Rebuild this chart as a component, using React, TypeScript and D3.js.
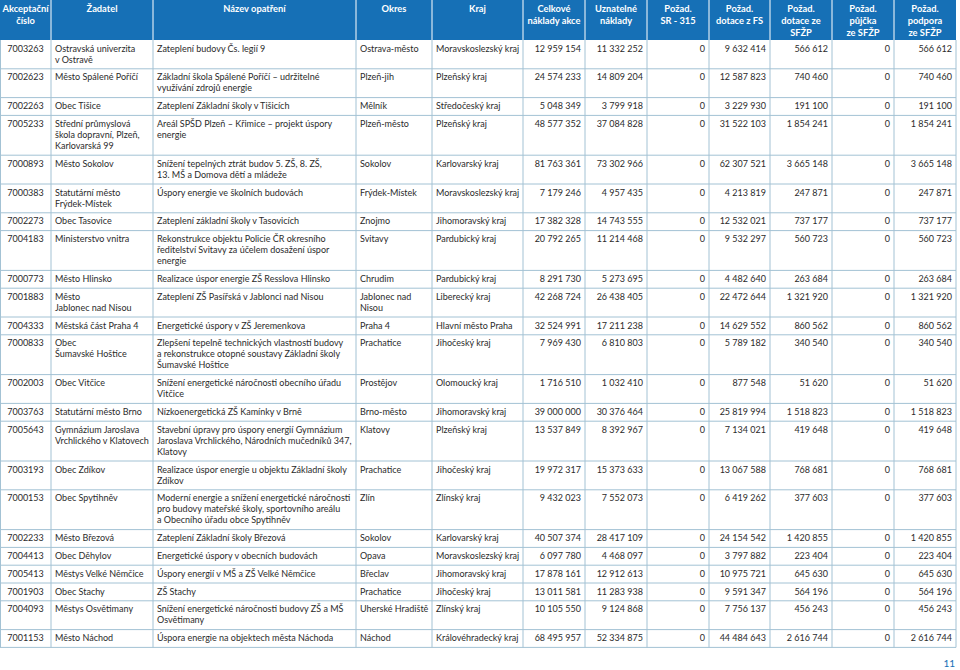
import { useEffect, useRef } from "react";
import * as d3 from "d3";

// table content
const headers = [
  "Akceptační\nčíslo", "Žadatel", "Název opatření", "Okres", "Kraj",
  "Celkové\nnáklady akce", "Uznatelné\nnáklady", "Požad.\nSR - 315", "Požad.\ndotace z FS",
  "Požad.\ndotace ze\nSFŽP", "Požad.\npůjčka\nze SFŽP", "Požad.\npodpora\nze SFŽP",
];

const acceptNumbers = [
  "7003263", "7002623", "7002263", "7005233", "7000893", "7000383", "7002273", "7004183",
  "7000773", "7001883", "7004333", "7000833", "7002003", "7003763", "7005643", "7003193",
  "7000153", "7002233", "7004413", "7005413", "7001903", "7004093", "7001153",
];

const applicants = [
  "Ostravská univerzita\nv Ostravě", "Město Spálené Poříčí", "Obec Tišice",
  "Střední průmyslová\nškola dopravní, Plzeň,\nKarlovarská 99", "Město Sokolov",
  "Statutární město\nFrýdek-Místek", "Obec Tasovice", "Ministerstvo vnitra", "Město Hlinsko",
  "Město\nJablonec nad Nisou", "Městská část Praha 4", "Obec\nŠumavské Hoštice", "Obec Vitčice",
  "Statutární město Brno", "Gymnázium Jaroslava\nVrchlického v Klatovech", "Obec Zdíkov",
  "Obec Spytihněv", "Město Březová", "Obec Děhylov", "Městys Velké Němčice", "Obec Stachy",
  "Městys Osvětimany", "Město Náchod",
];

const measures = [
  "Zateplení budovy Čs. legií 9",
  "Základní škola Spálené Poříčí – udržitelné\nvyužívání zdrojů energie",
  "Zateplení Základní školy v Tišicích",
  "Areál SPŠD Plzeň – Křimice – projekt úspory\nenergie",
  "Snížení tepelných ztrát budov 5. ZŠ, 8. ZŠ,\n13. MŠ a Domova dětí a mládeže",
  "Úspory energie ve školních budovách",
  "Zateplení základní školy v Tasovicích",
  "Rekonstrukce objektu Policie ČR okresního\nředitelství Svitavy za účelem dosažení úspor\nenergie",
  "Realizace úspor energie ZŠ Resslova Hlinsko",
  "Zateplení ZŠ Pasířská v Jablonci nad Nisou",
  "Energetické úspory v ZŠ Jeremenkova",
  "Zlepšení tepelně technických vlastností budovy\na rekonstrukce otopné soustavy Základní školy\nŠumavské Hoštice",
  "Snížení energetické náročnosti obecního úřadu\nVitčice",
  "Nízkoenergetická ZŠ Kamínky v Brně",
  "Stavební úpravy pro úspory energií Gymnázium\nJaroslava Vrchlického, Národních mučedníků 347,\nKlatovy",
  "Realizace úspor energie u objektu Základní školy\nZdíkov",
  "Moderní energie a snížení energetické náročnosti\npro budovy mateřské školy, sportovního areálu\na Obecního úřadu obce Spytihněv",
  "Zateplení Základní školy Březová",
  "Energetické úspory v obecních budovách",
  "Úspory energií v MŠ a ZŠ Velké Němčice",
  "ZŠ Stachy",
  "Snížení energetické náročnosti budovy ZŠ a MŠ\nOsvětimany",
  "Úspora energie na objektech města Náchoda",
];

const districts = [
  "Ostrava-město", "Plzeň-jih", "Mělník", "Plzeň-město", "Sokolov", "Frýdek-Místek", "Znojmo",
  "Svitavy", "Chrudim", "Jablonec nad\nNisou", "Praha 4", "Prachatice", "Prostějov", "Brno-město",
  "Klatovy", "Prachatice", "Zlín", "Sokolov", "Opava", "Břeclav", "Prachatice", "Uherské Hradiště",
  "Náchod",
];

const regions = [
  "Moravskoslezský kraj", "Plzeňský kraj", "Středočeský kraj", "Plzeňský kraj", "Karlovarský kraj",
  "Moravskoslezský kraj", "Jihomoravský kraj", "Pardubický kraj", "Pardubický kraj", "Liberecký kraj",
  "Hlavní město Praha", "Jihočeský kraj", "Olomoucký kraj", "Jihomoravský kraj", "Plzeňský kraj",
  "Jihočeský kraj", "Zlínský kraj", "Karlovarský kraj", "Moravskoslezský kraj", "Jihomoravský kraj",
  "Jihočeský kraj", "Zlínský kraj", "Královéhradecký kraj",
];

const totalCosts = [
  12959154, 24574233, 5048349, 48577352, 81763361, 7179246, 17382328, 20792265, 8291730,
  42268724, 32524991, 7969430, 1716510, 39000000, 13537849, 19972317, 9432023, 40507374,
  6097780, 17878161, 13011581, 10105550, 68495957,
];
const eligibleCosts = [
  11332252, 14809204, 3799918, 37084828, 73302966, 4957435, 14743555, 11214468, 5273695,
  26438405, 17211238, 6810803, 1032410, 30376464, 8392967, 15373633, 7552073, 28417109,
  4468097, 12912613, 11283938, 9124868, 52334875,
];
const srRequest = [0, 0, 0, 0, 0, 0, 0, 0, 0, 0, 0, 0, 0, 0, 0, 0, 0, 0, 0, 0, 0, 0, 0];
const fsGrant = [
  9632414, 12587823, 3229930, 31522103, 62307521, 4213819, 12532021, 9532297, 4482640,
  22472644, 14629552, 5789182, 877548, 25819994, 7134021, 13067588, 6419262, 24154542,
  3797882, 10975721, 9591347, 7756137, 44484643,
];
const sfzpGrant = [
  566612, 740460, 191100, 1854241, 3665148, 247871, 737177, 560723, 263684, 1321920, 860562,
  340540, 51620, 1518823, 419648, 768681, 377603, 1420855, 223404, 645630, 564196, 456243,
  2616744,
];
const sfzpLoan = [0, 0, 0, 0, 0, 0, 0, 0, 0, 0, 0, 0, 0, 0, 0, 0, 0, 0, 0, 0, 0, 0, 0];
const sfzpSupport = [
  566612, 740460, 191100, 1854241, 3665148, 247871, 737177, 560723, 263684, 1321920, 860562,
  340540, 51620, 1518823, 419648, 768681, 377603, 1420855, 223404, 645630, 564196, 456243,
  2616744,
];
const pageNumber = "11";

export default function App() {
  const svgRef = useRef<SVGSVGElement>(null);

  useEffect(() => {
    const svg = d3.select(svgRef.current);
    svg.selectAll("*").remove();

    const colEdges = [0, 51, 153, 356, 432, 523, 585, 647, 709, 770, 832, 894, 956];
    const headH = 40;
    const lineH = 11;
    const padY = 6.8;
    const font = "Lato, 'Open Sans', sans-serif";
    const blue = "#1670b6";
    const grid = "#a3c2d4";
    const ink = "#2b2b2b";

    // czech style grouping: space between thousands
    const loc = d3.formatLocale({ decimal: ",", thousands: " ", grouping: [3], currency: ["", ""] });
    const fmt = loc.format(",d");

    const textCols = [acceptNumbers, applicants, measures, districts, regions];
    const numCols = [totalCosts, eligibleCosts, srRequest, fsGrant, sfzpGrant, sfzpLoan, sfzpSupport];

    const rows = acceptNumbers.map((_, i) => {
      const cells = [
        ...textCols.map((c) => c[i].split("\n")),
        ...numCols.map((c) => [fmt(c[i])]),
      ];
      return { cells, lines: d3.max(cells, (c) => c.length) as number };
    });

    const heights = rows.map((r) => padY + lineH * r.lines);
    const tops = [0, ...d3.cumsum(heights)].map((v) => headH + v);
    const bottom = tops[tops.length - 1];

    // header band
    svg.append("rect").attr("x", 0).attr("y", 0).attr("width", colEdges[12]).attr("height", headH).attr("fill", blue);
    colEdges.slice(1, -1).forEach((x) => {
      svg.append("line").attr("x1", x).attr("x2", x).attr("y1", 0).attr("y2", headH)
        .attr("stroke", "#ffffff").attr("stroke-width", 1);
    });

    headers.forEach((h, j) => {
      const cx = (colEdges[j] + colEdges[j + 1]) / 2;
      const t = svg.append("text").attr("text-anchor", "middle").attr("fill", "#fff")
        .attr("font-family", font).attr("font-size", 9.3).attr("font-weight", 700);
      h.split("\n").forEach((ln, k) => {
        t.append("tspan").attr("x", cx).attr("y", 11.5 + k * 12).text(ln);
      });
    });

    // body grid
    const g = svg.append("g");
    tops.slice(1).forEach((ty) => {
      g.append("line").attr("x1", 0).attr("x2", colEdges[12]).attr("y1", ty).attr("y2", ty)
        .attr("stroke", grid).attr("stroke-width", 1);
    });
    colEdges.forEach((x) => {
      const xx = x === 0 ? 0.5 : x;
      g.append("line").attr("x1", xx).attr("x2", xx).attr("y1", headH).attr("y2", bottom)
        .attr("stroke", grid).attr("stroke-width", 1);
    });

    // cells
    rows.forEach((r, i) => {
      const top = tops[i];
      r.cells.forEach((lines, j) => {
        let x: number, anchor: string;
        if (j === 0) { x = (colEdges[0] + colEdges[1]) / 2; anchor = "middle"; }
        else if (j < 5) { x = colEdges[j] + 4; anchor = "start"; }
        else { x = colEdges[j + 1] - 4; anchor = "end"; }
        const t = g.append("text").attr("text-anchor", anchor).attr("fill", ink)
          .attr("font-family", font).attr("font-size", 9);
        lines.forEach((ln, k) => {
          t.append("tspan").attr("x", x).attr("y", top + 11.5 + k * lineH).text(ln);
        });
      });
    });

    svg.append("text").attr("x", 955).attr("y", 667).attr("text-anchor", "end")
      .attr("fill", blue).attr("font-family", font).attr("font-size", 10).text(pageNumber);
  }, []);

  return (
    <div style={{ position: "absolute", left: 0, top: 0, background: "#fff" }}>
      <svg ref={svgRef} width={960} height={670} style={{ display: "block" }} />
    </div>
  );
}
